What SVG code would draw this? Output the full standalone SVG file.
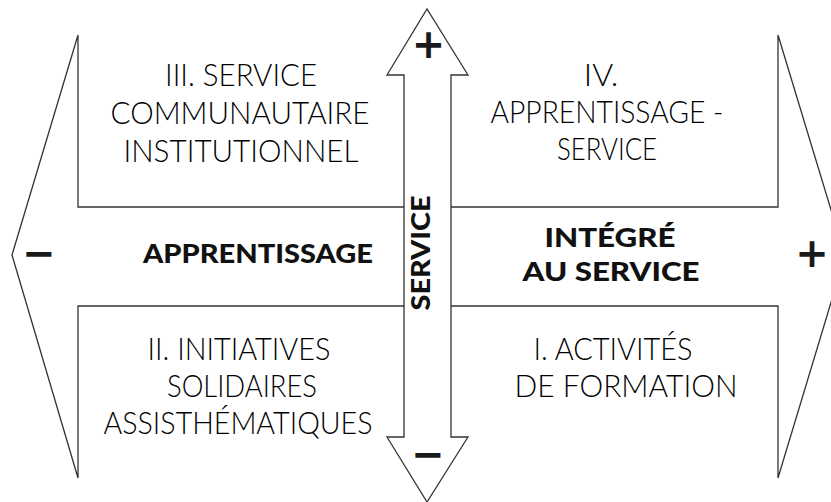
<svg xmlns="http://www.w3.org/2000/svg" width="831" height="502" viewBox="0 0 831 502">
<style>
.ar{fill:#fff;stroke:#333;stroke-width:1.3;stroke-linejoin:miter}
.q{font-family:Lato,"Liberation Sans",sans-serif;font-weight:300;font-size:32px;fill:#000;text-anchor:middle}
.b{font-family:Lato,"Liberation Sans",sans-serif;font-weight:900;font-size:26px;fill:#111;text-anchor:middle}
.s{font-family:"DejaVu Sans",sans-serif;font-weight:bold;font-size:40px;fill:#1a1a1a;text-anchor:middle}
</style>
<rect width="831" height="502" fill="#fff"/>
<g id="connectors">
  <polygon id="axis-apprentissage" class="ar" points="12,255 78,35 78,207 778,207 778,35 845,256 778,478 778,306 78,306 78,478"/>
  <polygon id="axis-service" class="ar" points="404,75 387,75 427,9 468,75 451,75 451,437 468,437 427,502 387,437 404,437"/>
</g>
<g id="signs">
  <text class="s" x="39" y="267">−</text>
  <text class="s" x="812" y="267">+</text>
  <text class="s" x="428.5" y="58">+</text>
  <text class="s" x="428" y="468">−</text>
</g>
<g id="label-service">
  <text class="b" transform="translate(430,253) rotate(-90)" x="0" y="0" font-size="21" textLength="115" lengthAdjust="spacingAndGlyphs">SERVICE</text>
</g>
<g id="label-apprentissage">
  <text class="b" x="258" y="263" textLength="230" lengthAdjust="spacingAndGlyphs">APPRENTISSAGE</text>
</g>
<g id="label-integre">
  <text class="b" x="610" y="247" textLength="131" lengthAdjust="spacingAndGlyphs">INTÉGRÉ</text>
  <text class="b" x="611" y="281" textLength="177" lengthAdjust="spacingAndGlyphs">AU SERVICE</text>
</g>
<g id="quadrant-III">
  <text class="q" x="241" y="86" textLength="152" lengthAdjust="spacingAndGlyphs">III. SERVICE</text>
  <text class="q" x="240" y="124" textLength="259" lengthAdjust="spacingAndGlyphs">COMMUNAUTAIRE</text>
  <text class="q" x="241" y="162" textLength="235" lengthAdjust="spacingAndGlyphs">INSTITUTIONNEL</text>
</g>
<g id="quadrant-IV">
  <text class="q" x="601" y="86">IV.</text>
  <text class="q" x="607" y="123" textLength="233" lengthAdjust="spacingAndGlyphs">APPRENTISSAGE -</text>
  <text class="q" x="607" y="160" textLength="100" lengthAdjust="spacingAndGlyphs">SERVICE</text>
</g>
<g id="quadrant-II">
  <text class="q" x="239" y="360" textLength="183" lengthAdjust="spacingAndGlyphs">II. INITIATIVES</text>
  <text class="q" x="242" y="397" textLength="150" lengthAdjust="spacingAndGlyphs">SOLIDAIRES</text>
  <text class="q" x="238" y="434" textLength="269" lengthAdjust="spacingAndGlyphs">ASSISTHÉMATIQUES</text>
</g>
<g id="quadrant-I">
  <text class="q" x="613" y="360" textLength="159" lengthAdjust="spacingAndGlyphs">I. ACTIVITÉS</text>
  <text class="q" x="626" y="397" textLength="223" lengthAdjust="spacingAndGlyphs">DE FORMATION</text>
</g>
</svg>
